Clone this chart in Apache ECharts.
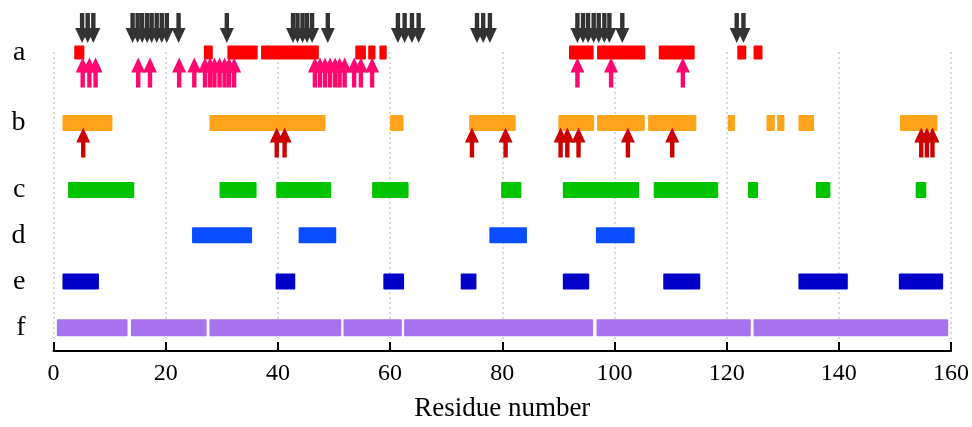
<!DOCTYPE html>
<html>
<head>
<meta charset="utf-8">
<script src="https://cdn.jsdelivr.net/npm/echarts@6/dist/echarts.min.js"></script>
<style>html,body{margin:0;padding:0;background:#fff}#c{width:972px;height:427px}</style>
</head>
<body>
<div id="c"></div>
<script>
// ---------- data ----------
const rowNames = ['a', 'b', 'c', 'd', 'e', 'f'];
const xTicks = [0, 20, 40, 60, 80, 100, 120, 140, 160];
const xLabel = 'Residue number';

const segA = [[3.7,5.5],[26.8,28.4],[31.0,36.4],[37.0,47.3],[53.8,55.7],[56.1,57.4],[58.1,59.4],
  [91.9,96.3],[96.9,105.5],[107.9,114.3],[121.9,123.5],[124.8,126.4]];
const segB = [[1.6,10.5],[27.8,48.5],[60.0,62.4],[74.1,82.4],[90.0,96.4],[96.9,105.4],[106.0,114.6],
  [120.2,121.5],[127.1,128.6],[129.0,130.3],[132.8,135.6],[150.9,157.6]];
const segC = [[2.6,14.4],[29.6,36.2],[39.7,49.5],[56.8,63.3],[79.8,83.4],[90.8,104.4],[107.0,118.5],
  [123.8,125.6],[135.9,138.5],[153.7,155.6]];
const segD = [[24.7,35.4],[43.7,50.4],[77.7,84.4],[96.7,103.6]];
const segE = [[1.6,8.1],[39.6,43.1],[58.8,62.5],[72.6,75.4],[90.8,95.5],[108.7,115.3],[132.8,141.6],[150.7,158.6]];
const segF = [[0.6,13.2],[13.8,27.3],[27.8,51.3],[51.7,62.1],[62.5,96.2],[96.8,124.3],[124.8,159.5]];

const arrowsDownA = [5.1,6.1,7.1, 14.1,15.0,15.8,16.7,17.5,18.4,19.3,20.2, 22.3, 30.9,
  42.7,43.5,44.4,45.2,46.1, 48.9, 61.4,62.6,63.9,65.1, 75.5,76.6,77.8,
  93.4,94.4,95.3,96.3,97.2,98.2,99.1, 101.4, 121.8,123.0];
const arrowsUpA = [5.2,6.4,7.5, 15.1,17.2, 22.4, 25.1, 27.0,27.9,28.7,29.6,30.5,31.3,32.2,
  46.6,47.5,48.4,49.3,50.2,51.0,51.9, 53.6,54.8,56.8, 93.4, 99.4, 112.2];
const arrowsUpB = [5.3, 39.8,41.2, 74.6, 80.6, 90.4,91.6,93.6, 102.4, 110.3, 154.7,155.7,156.7];

// ---------- layout / style ----------
const rowPos = [52.5, 123.5, 191, 236.5, 283, 329.5];
const rowH = [14, 16, 16, 16, 16, 17];
const rowColors = ['#ff0000', '#ffa41b', '#00c400', '#0a4cff', '#0000c8', '#a973ef'];
const serif = '"Liberation Serif", "Times New Roman", serif';

function barSeries(segs, r) {
  return {
    type: 'custom',
    clip: false,
    data: segs.map(s => [s[0], s[1], r]),
    renderItem: function (params, api) {
      const row = api.value(2);
      const p0 = api.coord([api.value(0), rowPos[row]]);
      const p1 = api.coord([api.value(1), rowPos[row]]);
      const h = rowH[row];
      return {
        type: 'rect',
        shape: { x: p0[0], y: p0[1] - h / 2, width: p1[0] - p0[0], height: h, r: 1 },
        style: { fill: rowColors[row] }
      };
    }
  };
}

function arrowSeries(xs, row, dir, tipOffset, color) {
  return {
    type: 'custom',
    clip: false,
    data: xs.map(x => [x, row]),
    renderItem: function (params, api) {
      const p = api.coord([api.value(0), rowPos[api.value(1)]]);
      const tx = p[0], ty = p[1] + tipOffset;
      const s = dir; // -1: points down (body above), +1: points up (body below)
      const hh = 15, hw = 7, sw = 2.2, L = 30;
      return {
        type: 'polygon',
        shape: { points: [
          [tx, ty], [tx + hw, ty + s * hh], [tx + sw, ty + s * hh], [tx + sw, ty + s * L],
          [tx - sw, ty + s * L], [tx - sw, ty + s * hh], [tx - hw, ty + s * hh]
        ] },
        style: { fill: color }
      };
    }
  };
}

const chart = echarts.init(document.getElementById('c'), null, { renderer: 'canvas' });
chart.setOption({
  animation: false,
  backgroundColor: '#fff',
  grid: { left: 53.5, right: 19.5, top: 52, bottom: 74 },
  xAxis: {
    type: 'value', min: 0, max: 160, interval: 20,
    name: xLabel, nameLocation: 'middle', nameGap: 44,
    nameTextStyle: { fontFamily: serif, fontSize: 27, color: '#000' },
    axisLine: { show: true, onZero: false, lineStyle: { color: '#000', width: 2 } },
    axisTick: { show: true, inside: true, length: 9, lineStyle: { color: '#000', width: 2 } },
    axisLabel: { fontFamily: serif, fontSize: 24, color: '#000', margin: 11,
      formatter: v => xTicks.indexOf(v) >= 0 ? String(v) : '' },
    splitLine: { show: true, lineStyle: { color: '#d9d9d9', width: 2, type: [2, 3] } }
  },
  yAxis: {
    type: 'value', min: 52, max: 353, inverse: true,
    axisLine: { show: false }, axisTick: { show: false }, splitLine: { show: false },
    axisLabel: {
      customValues: rowPos, margin: 28, fontFamily: serif, fontSize: 28, color: '#000',
      formatter: v => { const i = rowPos.indexOf(v); return i >= 0 ? rowNames[i] : ''; }
    }
  },
  series: [
    barSeries(segA, 0), barSeries(segB, 1), barSeries(segC, 2),
    barSeries(segD, 3), barSeries(segE, 4), barSeries(segF, 5),
    arrowSeries(arrowsDownA, 0, -1, -9.5, '#333333'),
    arrowSeries(arrowsUpA, 0, 1, 5, '#ff0870'),
    arrowSeries(arrowsUpB, 1, 1, 4.5, '#cc0000')
  ]
});
</script>
</body>
</html>
